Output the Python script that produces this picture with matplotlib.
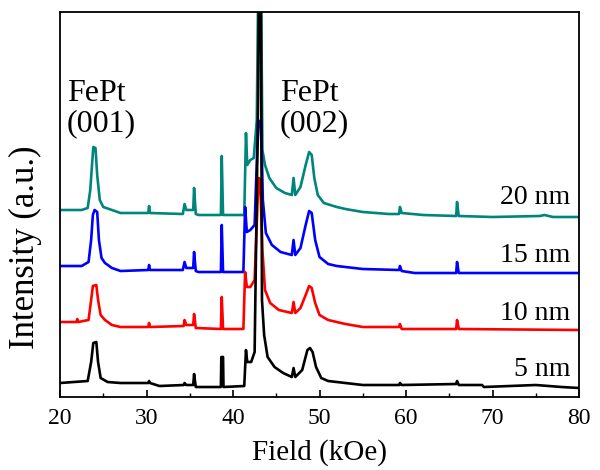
import matplotlib
matplotlib.use('Agg')
import matplotlib.pyplot as plt
from matplotlib.ticker import MultipleLocator

plt.rcParams['font.family'] = ['Liberation Serif', 'DejaVu Serif']

# intensity values in arbitrary units (offset stacked)
x_20 = [20.0, 22.5, 23.2, 23.5, 23.7, 23.85, 24.1, 24.3, 24.6, 25.0, 26.0, 27.0,
        30.2, 30.3, 30.4, 34.2, 34.4, 34.6, 35.4, 35.5, 35.7, 36.0, 38.6, 38.7,
        38.85, 41.3, 41.5, 41.65, 42.0, 42.4, 42.75, 42.9, 43.2, 43.4, 43.7, 44.2,
        45.0, 46.0, 46.8, 47.0, 47.2, 47.8, 48.4, 48.8, 49.1, 49.4, 49.8, 50.5,
        52.0, 53.0, 55.0, 58.0, 59.2, 59.3, 59.5, 62.0, 65.8, 65.9, 66.1, 70.0,
        75.5, 76.0, 77.0, 80.0]
y_20 = [187, 187, 189, 207, 232, 250, 249, 222, 197, 190, 187, 184,
        184, 191, 184, 183, 193, 187, 187, 209, 183, 182, 182, 241,
        182, 182, 264, 232, 237, 239, 277, 400, 460, 247, 232, 219,
        209, 204, 202, 219, 202, 210, 232, 245, 242, 219, 202, 194,
        190, 188, 185, 183, 183, 190, 184, 182, 181, 195, 181, 180,
        181, 182, 180, 180]

x_15 = [20.0, 22.5, 23.3, 23.6, 23.8, 24.0, 24.3, 24.5, 24.8, 25.2, 26.0, 27.0,
        30.2, 30.3, 30.4, 34.2, 34.4, 34.6, 35.4, 35.5, 35.7, 36.0, 38.6, 38.7,
        38.85, 41.2, 41.4, 41.6, 42.0, 42.5, 42.8, 43.0, 43.25, 43.45, 43.8, 44.5,
        45.5, 46.8, 47.0, 47.2, 47.8, 48.4, 48.8, 49.1, 49.5, 50.0, 51.0, 52.0,
        55.0, 59.2, 59.3, 59.5, 61.0, 65.8, 65.9, 66.1, 80.0]
y_15 = [131, 131, 135, 157, 182, 187, 185, 157, 139, 134, 129, 126,
        127, 132, 127, 127, 135, 129, 129, 145, 126, 125, 125, 172,
        125, 125, 190, 165, 167, 172, 247, 276, 276, 197, 164, 152,
        145, 142, 157, 142, 149, 172, 186, 184, 157, 140, 133, 131,
        128, 127, 131, 126, 124, 124, 135, 124, 124]

x_10 = [20.0, 21.9, 22.0, 22.1, 23.3, 23.6, 23.8, 24.2, 24.4, 24.7, 25.2, 26.0,
        27.0, 30.2, 30.3, 30.4, 34.3, 34.4, 34.6, 35.4, 35.5, 35.7, 38.6, 38.7,
        38.85, 41.2, 41.4, 41.6, 42.0, 42.5, 42.85, 43.0, 43.15, 43.4, 43.7, 44.3,
        45.3, 46.8, 47.0, 47.2, 47.8, 48.4, 48.8, 49.1, 49.5, 50.0, 51.0, 53.0,
        55.0, 59.2, 59.3, 59.5, 65.8, 65.9, 66.1, 80.0]
y_10 = [75, 75, 78, 75, 77, 97, 111, 112, 97, 82, 77, 72,
        70, 70, 74, 70, 71, 77, 72, 72, 83, 69, 68, 100,
        68, 68, 125, 110, 110, 117, 197, 219, 217, 147, 107, 94,
        87, 84, 95, 84, 89, 102, 111, 109, 94, 82, 77, 73,
        70, 70, 73, 68, 68, 77, 68, 67]

x_5 = [20.0, 23.2, 23.6, 23.85, 24.2, 24.4, 24.7, 25.5, 27.0, 30.2, 30.3, 30.4,
       31.5, 34.3, 34.4, 34.6, 35.4, 35.5, 35.7, 38.6, 38.65, 38.85, 38.9, 41.3,
       41.5, 41.65, 42.1, 42.5, 42.9, 43.05, 43.2, 43.35, 43.6, 44.0, 44.8, 45.8,
       46.8, 47.0, 47.2, 48.0, 48.6, 48.9, 49.2, 49.6, 50.2, 51.0, 53.0, 55.0,
       59.2, 59.3, 59.5, 65.8, 65.9, 66.1, 68.8, 69.0, 75.0, 78.0, 80.0]
y_5 = [14, 16, 35, 54, 55, 35, 19, 15, 14, 14, 16, 14,
       11, 12, 14, 12, 12, 23, 10, 10, 40, 40, 10, 11,
       47, 35, 35, 45, 297, 477, 477, 97, 62, 40, 30, 24,
       20, 29, 20, 27, 47, 49, 45, 30, 19, 16, 14, 12,
       12, 14, 12, 13, 16, 12, 12, 10, 12, 10, 9]

labels = ['20 nm', '15 nm', '10 nm', '5 nm']
label_y = [199, 142, 84, 28]
colors = ['#00857d', '#0000ff', '#ff0000', '#000000']

fig = plt.figure(figsize=(6, 4.7), dpi=100)
ax = fig.add_axes([0.1, 0.1553, 0.865, 0.8192])

series = [(x_20, y_20), (x_15, y_15), (x_10, y_10), (x_5, y_5)]
for (xs, ys), c in zip(series, colors):
    ax.plot(xs, ys, color=c, lw=1.9)

for lab, ly in zip(labels, label_y):
    ax.text(79.0, ly, lab, ha='right', va='center', fontsize=20)

ax.text(20.8, 288, 'FePt\n(001)', ha='left', va='center', fontsize=23,
        linespacing=1.05)
ax.text(45.4, 288, 'FePt\n(002)', ha='left', va='center', fontsize=23,
        linespacing=1.05)

ax.set_xlim(20, 80)
ax.set_ylim(0, 385)
ax.xaxis.set_major_locator(MultipleLocator(10))
ax.xaxis.set_minor_locator(MultipleLocator(5))
ax.tick_params(axis='x', which='major', direction='in', length=5, width=1.2,
               labelsize=17, pad=8, top=False)
ax.tick_params(axis='x', which='minor', direction='in', length=3, width=1.0,
               top=False)
ax.set_yticks([])
for s in ax.spines.values():
    s.set_linewidth(1.3)

ax.set_xlabel('Field (kOe)', fontsize=21, labelpad=7)
ax.set_ylabel('Intensity (a.u.)', fontsize=25)
ax.yaxis.set_label_coords(-0.034, 0.39)

fig.savefig('out.png', dpi=100)
